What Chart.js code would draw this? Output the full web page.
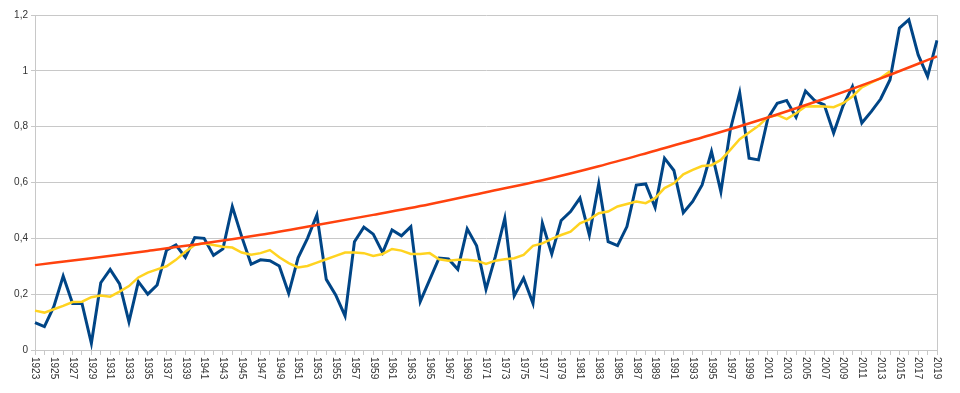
<!DOCTYPE html>
<html>
<head>
<meta charset="utf-8">
<script src="https://cdn.jsdelivr.net/npm/chart.js@4/dist/chart.umd.min.js"></script>
<style>
  html, body { margin: 0; padding: 0; background: #fff; }
  #wrap { width: 960px; height: 393px; }
</style>
</head>
<body>
<div id="wrap"><canvas id="chart" width="960" height="393"></canvas></div>
<script>
// années 1923 -> 2019
const firstYear = 1923;
const years = Array.from({ length: 97 }, (_, i) => String(firstYear + i));

// série annuelle (bleu)
const annualValues = [
  0.098, 0.084, 0.155, 0.265, 0.167, 0.167, 0.024, 0.241, 0.289, 0.237,
  0.101, 0.245, 0.200, 0.233, 0.358, 0.376, 0.332, 0.403, 0.400, 0.339,
  0.362, 0.514, 0.406, 0.307, 0.323, 0.320, 0.301, 0.203, 0.330, 0.400,
  0.484, 0.253, 0.197, 0.122, 0.388, 0.440, 0.415, 0.349, 0.430, 0.409,
  0.442, 0.173, 0.251, 0.329, 0.326, 0.289, 0.434, 0.373, 0.217, 0.335,
  0.472, 0.194, 0.257, 0.167, 0.454, 0.344, 0.464, 0.496, 0.544, 0.412,
  0.595, 0.388, 0.374, 0.442, 0.591, 0.595, 0.511, 0.687, 0.643, 0.492,
  0.532, 0.591, 0.711, 0.567, 0.789, 0.922, 0.687, 0.681, 0.830, 0.884,
  0.894, 0.834, 0.928, 0.893, 0.878, 0.777, 0.875, 0.944, 0.813, 0.854,
  0.899, 0.968, 1.153, 1.183, 1.057, 0.980, 1.109
];

// moyenne glissante (jaune), 1923 -> 2014
const averageValues = [
  0.141, 0.134, 0.146, 0.158, 0.172, 0.173, 0.189, 0.195, 0.191, 0.209,
  0.229, 0.260, 0.277, 0.289, 0.300, 0.323, 0.352, 0.376, 0.382, 0.376,
  0.370, 0.367, 0.349, 0.341, 0.347, 0.358, 0.332, 0.311, 0.296, 0.301,
  0.313, 0.325, 0.337, 0.349, 0.349, 0.347, 0.337, 0.344, 0.362, 0.356,
  0.344, 0.344, 0.347, 0.325, 0.320, 0.323, 0.323, 0.320, 0.308, 0.320,
  0.325, 0.329, 0.341, 0.373, 0.382, 0.398, 0.412, 0.424, 0.454, 0.468,
  0.490, 0.496, 0.514, 0.523, 0.532, 0.526, 0.544, 0.580, 0.597, 0.629,
  0.645, 0.659, 0.662, 0.681, 0.717, 0.755, 0.779, 0.803, 0.834, 0.842,
  0.827, 0.848, 0.872, 0.873, 0.872, 0.870, 0.884, 0.908, 0.941, 0.958,
  0.974, 0.998
];

// courbe de tendance (orange), lue tous les 6 ans
const trendYears = ['1923', '1929', '1935', '1941', '1947', '1953', '1959', '1965', '1971',
                    '1977', '1983', '1989', '1995', '2001', '2007', '2013', '2019'];
const trendValues = [0.304, 0.329, 0.355, 0.382, 0.413, 0.448, 0.484, 0.522, 0.565,
                     0.608, 0.658, 0.714, 0.771, 0.833, 0.900, 0.973, 1.052];

const yTicks = [0, 0.2, 0.4, 0.6, 0.8, 1, 1.2];

const trendData = years.map(y => {
    const i = trendYears.indexOf(y);
    return i >= 0 ? trendValues[i] : null;
});
const averageData = years.map((y, i) => i < averageValues.length ? averageValues[i] : null);

// étiquettes verticales de l'axe X (lecture de haut en bas)
const verticalLabels = {
    id: 'verticalLabels',
    afterDraw(chart) {
        const ctx = chart.ctx;
        const xScale = chart.scales.x;
        const bottom = chart.chartArea.bottom;
        ctx.save();
        ctx.fillStyle = '#333';
        ctx.font = '10px "Liberation Sans", Arial, sans-serif';
        ctx.textAlign = 'left';
        ctx.textBaseline = 'middle';
        years.forEach((label, i) => {
            if (i % 2 !== 0) return;
            const x = xScale.getPixelForValue(i);
            ctx.save();
            ctx.translate(x, bottom + 7);
            ctx.rotate(Math.PI / 2);
            ctx.fillText(label, 0, 0);
            ctx.restore();
        });
        ctx.restore();
    }
};

const lastIndex = years.length - 1;

new Chart(document.getElementById('chart'), {
    type: 'line',
    data: {
        labels: years,
        datasets: [
            {
                label: 'Tendance',
                data: trendData,
                borderColor: '#ff420e',
                borderWidth: 2.5,
                pointRadius: 0,
                spanGaps: true,
                cubicInterpolationMode: 'monotone',
                fill: false
            },
            {
                label: 'Moyenne',
                data: averageData,
                borderColor: '#ffd320',
                borderWidth: 2.5,
                pointRadius: 0,
                fill: false
            },
            {
                label: 'Valeurs',
                data: annualValues,
                borderColor: '#004586',
                borderWidth: 3,
                pointRadius: 0,
                tension: 0,
                fill: false
            }
        ]
    },
    options: {
        responsive: false,
        animation: false,
        layout: { padding: { top: 15, right: 23, left: 0, bottom: 0 } },
        plugins: {
            legend: { display: false },
            tooltip: { enabled: false }
        },
        scales: {
            x: {
                ticks: { display: false, autoSkip: false },
                grid: {
                    color: ctx => ctx.index === lastIndex ? '#c8c8c8' : 'transparent',
                    tickColor: '#c8c8c8',
                    tickLength: 5,
                    lineWidth: 1
                },
                border: { color: '#c8c8c8' },
                afterFit: scale => { scale.height = 43; }
            },
            y: {
                min: 0,
                max: 1.2,
                afterBuildTicks: scale => {
                    scale.ticks = yTicks.map(v => ({ value: v }));
                },
                ticks: {
                    color: '#333',
                    padding: 3,
                    font: { family: '"Liberation Sans", Arial, sans-serif', size: 10 },
                    callback: v => String(Math.round(v * 10) / 10).replace('.', ',')
                },
                grid: {
                    color: '#c8c8c8',
                    tickLength: 4
                },
                border: { color: '#c8c8c8' },
                afterFit: scale => { scale.width = 35; }
            }
        }
    },
    plugins: [verticalLabels]
});
</script>
</body>
</html>
